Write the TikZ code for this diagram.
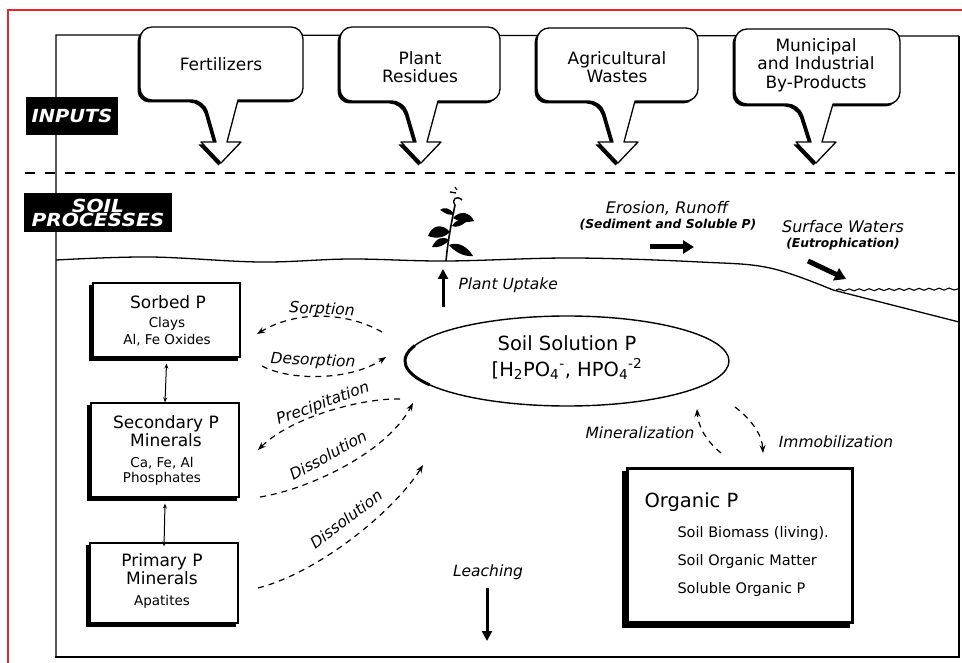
\documentclass[tikz,border=0pt]{standalone}
\usepackage{fontspec}
\setmainfont{DejaVu Sans}
\usetikzlibrary{arrows.meta,decorations.pathmorphing,shapes.geometric}
\definecolor{framered}{RGB}{232,38,42}
\pgfdeclarelayer{background}
\pgfsetlayers{background,main}
\newcommand\calloutpath[5]{(#1+50,#3) [rounded corners=12pt] -- (#1,#3) -- (#1,#4) -- (#5-17,#4) [sharp corners] -- (#5-5,142) -- (#5-20,142) -- (#5,163) -- (#5+20,142) -- (#5+6,142) -- (#5+17,#4) [rounded corners=12pt] -- (#2,#4) -- (#2,#3) -- cycle}
\newcommand\drawcallout[5]{%
  \fill[black,shift={(-2.5,2.5)}] \calloutpath{#1}{#2}{#3}{#4}{#5};
  \draw[fill=white,line width=1.3pt,line join=round] \calloutpath{#1}{#2}{#3}{#4}{#5};
}
\newcommand\boxshadow[2]{%
  \begin{pgfonlayer}{background}
  \fill ([shift={(-#2,#2)}]#1.south west) rectangle ([shift={(-#2,#2)}]#1.north east);
  \end{pgfonlayer}}
\tikzset{
  ctext/.style={align=center,font=\fontsize{17}{18.5}\selectfont},
  tag/.style={fill=black,text=white,align=center,inner sep=0pt,
    font=\fontsize{18}{14}\selectfont\bfseries\itshape},
  shbox/.style={draw,fill=white,line width=1.2pt},
  bhead/.style={font=\fontsize{17}{18}\selectfont},
  bsub/.style={font=\fontsize{13.5}{15}\selectfont},
  lab/.style={font=\fontsize{15.5}{17}\selectfont\itshape},
  sublab/.style={font=\fontsize{12.3}{13}\selectfont\bfseries\itshape},
  flow/.style={line width=1.2pt,dash pattern=on 6pt off 5pt,
    -{Stealth[length=8pt,width=6pt]}},
  thickarrow/.style={line width=5pt,-{Triangle[length=11pt,width=13pt]}},
  midarrow/.style={line width=3pt,-{Triangle[length=10pt,width=10pt]}},
  dblarrow/.style={line width=1pt,{Stealth[length=5pt,width=4pt]}-{Stealth[length=5pt,width=4pt]}},
  orgtext/.style={anchor=west,font=\fontsize{14.5}{16}\selectfont}
}
\begin{document}
\begin{tikzpicture}[x=1pt,y=-1pt]
\useasboundingbox (0,0) rectangle (962,663);
% red outer frame
\draw[framered,line width=2.2pt] (8,663) -- (8,10) -- (962,10);
% main frame
\draw[line width=1.3pt] (56,657) -- (56,35) -- (959,36);
\draw[line width=2.8pt] (959,36) -- (959,657) -- (55,657);
% separator
\draw[line width=1.3pt,dash pattern=on 10pt off 10pt] (25,173) -- (962,173);
% callouts
\drawcallout{140}{303}{27}{100}{221}
\drawcallout{340}{500}{27}{101}{421}
\drawcallout{537}{698}{28}{101}{618}
\drawcallout{735}{900}{29}{104}{816}
\node[ctext] (fert) at (221,64) {Fertilizers};
\node[ctext] (resid) at (420,67) {Plant\\Residues};
\node[ctext] (agri) at (617,67) {Agricultural\\Wastes};
\node[ctext] (muni) at (816,65) {Municipal\\and Industrial\\By-Products};
% section tags
\node[tag,minimum width=92pt,minimum height=38pt] (inputs) at (72,116) {\scalebox{1.08}[1]{INPUTS}};
\node[tag,minimum width=148pt,minimum height=39pt] (soilproc) at (98,212.5) {\scalebox{1.12}[1]{SOIL}\\\scalebox{1.12}[1]{PROCESSES}};
% ground surface
\draw[line width=1.3pt] plot[smooth,tension=0.6] coordinates {(56,260) (150,257) (260,262) (350,259) (446,261) (573,258) (700,262) (770,268) (833,290)} -- (959,322);
\draw[line width=1.1pt,decorate,decoration={snake,amplitude=1pt,segment length=10pt}] (836,290) -- (958,289);
% plant
\draw[line width=1.6pt] (446,261) .. controls (448,240) and (451,225) .. (455,205);
\draw[line width=1.4pt] (455,205) .. controls (451,199) and (457,195) .. (462,200);
\draw[line width=1.4pt] (450,192) -- (456,193);
\draw[line width=1.2pt] (455,187) -- (457,190);
\fill (453,218) .. controls (460,210) and (470,212) .. (474,221) .. controls (466,223) and (459,222) .. (453,218);
\fill (454,214) .. controls (449,207) and (444,207) .. (440,210) .. controls (446,214) and (450,216) .. (454,214);
\fill (450,232) .. controls (442,223) and (432,225) .. (428,236) .. controls (436,239) and (444,238) .. (450,232);
\fill (449,240) .. controls (442,235) and (436,239) .. (432,247) .. controls (438,248) and (444,246) .. (449,240);
\fill (449,245) .. controls (458,241) and (468,247) .. (473,256) .. controls (463,257) and (454,251) .. (449,245);
\fill (452,226) .. controls (456,219) and (462,219) .. (466,222) .. controls (461,226) and (456,228) .. (452,226);
% plant uptake
\coordinate (upA) at (443,307);
\coordinate (upB) at (443,269);
\draw[midarrow] (upA) -- (upB);
\node[lab,anchor=west] (uptake) at (455,285) {Plant Uptake};
% erosion / surface waters
\node[lab,font=\fontsize{16}{17}\selectfont\itshape] (eros) at (667,208) {Erosion, Runoff};
\node[sublab] (sed) at (668,225) {(Sediment and Soluble P)};
\node[lab,font=\fontsize{16}{17}\selectfont\itshape] (surf) at (843,227) {Surface Waters};
\node[sublab] (eutro) at (843,244) {(Eutrophication)};
\coordinate (erA) at (650,247);
\coordinate (erB) at (694,247);
\draw[thickarrow] (erA) -- (erB);
\coordinate (swA) at (808,261);
\coordinate (swB) at (846,279);
\draw[thickarrow] (swA) -- (swB);
% soil solution ellipse
\node[draw,ellipse,line width=1.4pt,minimum width=324pt,minimum height=90pt,inner sep=0pt] (sol) at (567,361) {};
\draw[line width=3pt] (sol.center) ++(148:162 and 45) arc[start angle=148,end angle=200,x radius=162,y radius=45];
\node[font=\fontsize{19.5}{21}\selectfont] (soltitle) at (567,343) {Soil Solution P};
\node[font=\fontsize{19.5}{21}\selectfont] (solions) at (567,369) {[H\textsubscript{2}PO\textsubscript{4}\textsuperscript{-}, HPO\textsubscript{4}\textsuperscript{-2}};
% mineral boxes
\node[shbox,minimum width=147pt,minimum height=74pt] (sorbed) at (166.5,320) {};
\boxshadow{sorbed}{3}
\node[bhead] (sorbedh) at (168,302) {Sorbed P};
\node[bsub] (sorbed1) at (167,324) {Clays};
\node[bsub] (sorbed2) at (167,340) {Al, Fe Oxides};
\node[shbox,minimum width=148pt,minimum height=94pt] (second) at (165,450) {};
\boxshadow{second}{3}
\node[bhead,align=center] (secondh) at (166,431) {Secondary P\\Minerals};
\node[bsub] (second1) at (162,463) {Ca, Fe, Al};
\node[bsub] (second2) at (162,479) {Phosphates};
\node[shbox,minimum width=148pt,minimum height=80pt] (primary) at (164,583) {};
\boxshadow{primary}{3}
\node[bhead,align=center] (primaryh) at (162,569) {Primary P\\Minerals};
\node[bsub] (primary1) at (162,602) {Apatites};
\draw[dblarrow] ([yshift=-6pt]sorbed.south) -- (second.north);
\draw[dblarrow] ([yshift=-6pt]second.south) -- ([yshift=-4pt]primary.north);
% dashed exchange arrows
\coordinate (sorA) at (382,332);
\coordinate (sorB) at (257,334);
\draw[flow] (sorA) .. controls (345,311) and (295,311) .. (sorB);
\node[lab,rotate=-3] (sorption) at (322,310) {Sorption};
\coordinate (desA) at (262,366);
\coordinate (desB) at (386,357);
\draw[flow] (desA) .. controls (290,381) and (350,381) .. (desB);
\node[lab,rotate=-3] (desorption) at (313,361) {Desorption};
\coordinate (preA) at (400,399);
\coordinate (preB) at (258,450);
\draw[flow] (preA) .. controls (360,398) and (290,418) .. (preB);
\node[lab,rotate=20] (precip) at (323,404) {Precipitation};
\coordinate (dis1A) at (260,497);
\coordinate (dis1B) at (413,403);
\draw[flow] (dis1A) .. controls (305,490) and (385,455) .. (dis1B);
\node[lab,rotate=29] (dissol1) at (328,455) {Dissolution};
\coordinate (dis2A) at (258,588);
\coordinate (dis2B) at (423,465);
\draw[flow] (dis2A) .. controls (320,572) and (395,510) .. (dis2B);
\node[lab,rotate=37] (dissol2) at (346,519) {Dissolution};
% organic P box
\node[draw,fill=white,line width=3pt,minimum width=225pt,minimum height=154pt] (organic) at (739.5,545) {};
\boxshadow{organic}{4}
\node[anchor=west,font=\fontsize{19.5}{21}\selectfont] (orgh) at (641,502) {Organic P};
\node[orgtext] (org1) at (674,533) {Soil Biomass (living).};
\node[orgtext] (org2) at (674,561) {Soil Organic Matter};
\node[orgtext] (org3) at (674,589) {Soluble Organic P};
% mineralization / immobilization
\coordinate (minA) at (721,453);
\coordinate (minB) at (697,409);
\draw[flow] (minA) .. controls (705,440) and (698,425) .. (minB);
\node[lab] (mineral) at (640,433) {Mineralization};
\coordinate (immA) at (735,407);
\coordinate (immB) at (763,453);
\draw[flow] (immA) .. controls (752,420) and (762,435) .. (immB);
\node[lab] (immob) at (836,442) {Immobilization};
% leaching
\node[lab] (leach) at (488,572) {Leaching};
\coordinate (leA) at (487,588);
\coordinate (leB) at (487,641);
\draw[midarrow] (leA) -- (leB);
\end{tikzpicture}
\end{document}
